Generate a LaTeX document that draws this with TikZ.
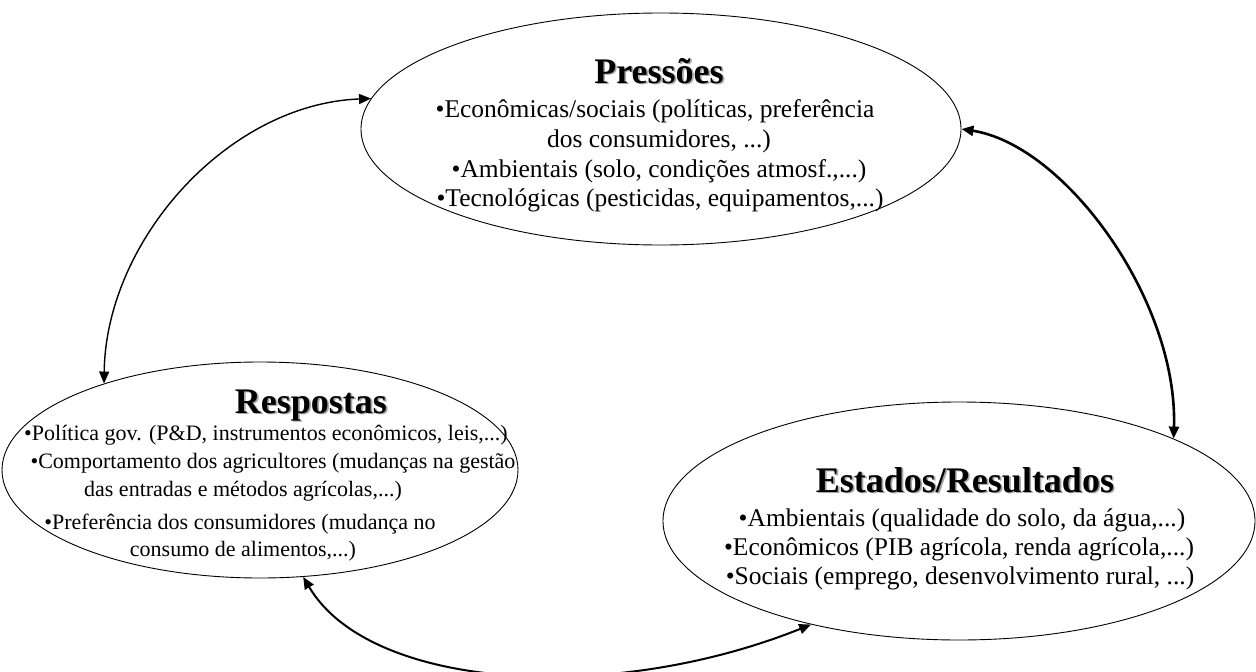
\documentclass[tikz,border=0pt]{standalone}
\usepackage{fontspec}
\setmainfont{Liberation Serif}
\usetikzlibrary{arrows.meta,shapes.geometric}
% bold heading with a soft grey drop shadow
\newcommand{\shtitle}[1]{\makebox[0pt][l]{\hspace{1.6pt}\raisebox{-1.6pt}{\textcolor{black!35}{#1}}}#1}

\begin{document}
\begin{tikzpicture}[x=1pt,y=-1pt,
  blob/.style={draw, ellipse, line width=0.9pt, inner sep=0pt},
  ttl/.style={font=\fontsize{36}{40}\selectfont\bfseries, anchor=base, inner sep=0pt},
  body/.style={font=\fontsize{25.5}{29}\selectfont, anchor=base, inner sep=0pt},
  bodysm/.style={font=\fontsize{22}{28}\selectfont, anchor=base, inner sep=0pt},
  link/.style={line width=#1,
    {Triangle[length=12pt,width=10pt]}-{Triangle[length=12pt,width=10pt]}},
]
\useasboundingbox (0,0) rectangle (1256,672);
\clip (0,0) rectangle (1256,672);

% the three ellipses
\node[blob, minimum width=600pt, minimum height=232pt] (pres) at (661,129) {};
\node[blob, minimum width=516pt, minimum height=216pt] (resp) at (260,470) {};
\node[blob, minimum width=592pt, minimum height=238pt] (est)  at (959,521) {};

% Pressões
\node[ttl]  (presT) at (659,83)  {\shtitle{Pressões}};
\node[body] (p1) at (655,117) {•Econômicas/sociais (políticas, preferência};
\node[body] (p2) at (659,147) {dos consumidores, ...)};
\node[body] (p3) at (659,177) {•Ambientais (solo, condições atmosf.,...)};
\node[body] (p4) at (660,206) {•Tecnológicas (pesticidas, equipamentos,...)};

% Respostas
\node[ttl]    (respT) at (311,413) {\shtitle{Respostas}};
\node[bodysm] (r1) at (266,440) {•Política gov. (P\&D, instrumentos econômicos, leis,...)};
\node[bodysm] (r2) at (273,468) {•Comportamento dos agricultores (mudanças na gestão};
\node[bodysm] (r3) at (243,496) {das entradas e métodos agrícolas,...)};
\node[bodysm] (r4) at (240,529) {•Preferência dos consumidores (mudança no};
\node[bodysm] (r5) at (243,556) {consumo de alimentos,...)};

% Estados/Resultados
\node[ttl]  (estT) at (965,492) {\shtitle{Estados/Resultados}};
\node[body] (e1) at (962,526) {•Ambientais (qualidade do solo, da água,...)};
\node[body] (e2) at (959,555) {•Econômicos (PIB agrícola, renda agrícola,...)};
\node[body] (e3) at (960,584) {•Sociais (emprego, desenvolvimento rural, ...)};

% two-way links between the ellipses
\draw[link=1.4pt] (resp.151) .. controls (106,240) and (228,104) .. (pres.174.5);
\draw[link=2.6pt] (pres.0) .. controls (1065,145) and (1178,300) .. (est.21);
\draw[link=2pt] (resp.292) .. controls (370,690) and (610,705) .. (est.215);
\end{tikzpicture}
\end{document}
